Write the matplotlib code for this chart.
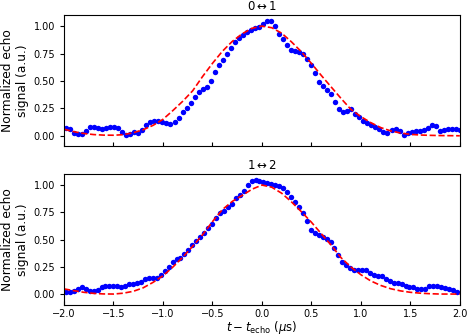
import numpy as np
import matplotlib
matplotlib.use("Agg")
import matplotlib.pyplot as plt

echo_01 = [0.073, 0.064, 0.027, 0.012, 0.015, 0.046, 0.076, 0.079, 0.070, 0.064,
           0.070, 0.079, 0.082, 0.067, 0.030, 0.006, 0.018, 0.033, 0.027, 0.049,
           0.094, 0.125, 0.134, 0.131, 0.125, 0.119, 0.109, 0.125, 0.164, 0.216,
           0.252, 0.298, 0.350, 0.398, 0.422, 0.447, 0.502, 0.581, 0.647, 0.690,
           0.748, 0.796, 0.854, 0.894, 0.921, 0.942, 0.967, 0.985, 0.994, 1.015,
           1.049, 1.049, 0.997, 0.930, 0.878, 0.830, 0.784, 0.772, 0.760, 0.742,
           0.702, 0.641, 0.568, 0.492, 0.453, 0.419, 0.377, 0.304, 0.246, 0.219,
           0.222, 0.240, 0.201, 0.170, 0.131, 0.119, 0.100, 0.082, 0.061, 0.033,
           0.027, 0.049, 0.064, 0.043, 0.006, 0.021, 0.033, 0.040, 0.040, 0.049,
           0.070, 0.100, 0.088, 0.046, 0.049, 0.061, 0.061, 0.058, 0.055]

echo_12 = [0.021, 0.021, 0.030, 0.049, 0.064, 0.049, 0.034, 0.030, 0.043, 0.064,
           0.076, 0.079, 0.079, 0.073, 0.070, 0.079, 0.091, 0.095, 0.101, 0.113,
           0.137, 0.149, 0.146, 0.152, 0.180, 0.213, 0.250, 0.293, 0.320, 0.335,
           0.366, 0.409, 0.451, 0.488, 0.524, 0.561, 0.604, 0.646, 0.701, 0.741,
           0.762, 0.796, 0.829, 0.878, 0.909, 0.948, 1.000, 1.037, 1.046, 1.040,
           1.030, 1.021, 1.009, 1.000, 0.994, 0.976, 0.939, 0.890, 0.848, 0.802,
           0.744, 0.668, 0.591, 0.558, 0.543, 0.524, 0.506, 0.476, 0.424, 0.360,
           0.299, 0.268, 0.244, 0.226, 0.220, 0.223, 0.223, 0.198, 0.177, 0.165,
           0.165, 0.137, 0.119, 0.107, 0.104, 0.098, 0.079, 0.070, 0.064, 0.049,
           0.046, 0.052, 0.076, 0.079, 0.079, 0.070, 0.058, 0.052, 0.040, 0.018]

# fitted curves (red dashed), sampled every 0.1 us
t_fit = [round(-2.0 + 0.1 * i, 1) for i in range(41)]
fit_01 = [0.060, 0.037, 0.021, 0.011, 0.006, 0.005, 0.010, 0.028, 0.055, 0.095,
          0.150, 0.230, 0.315, 0.410, 0.540, 0.660, 0.770, 0.860, 0.930, 0.980,
          1.000, 0.985, 0.935, 0.855, 0.765, 0.660, 0.550, 0.445, 0.340, 0.240,
          0.175, 0.120, 0.075, 0.045, 0.025, 0.013, 0.007, 0.004, 0.002, 0.001,
          0.000]
fit_12 = [0.050, 0.034, 0.019, 0.009, 0.004, 0.003, 0.011, 0.028, 0.060, 0.110,
          0.170, 0.250, 0.340, 0.440, 0.545, 0.665, 0.775, 0.850, 0.905, 0.962,
          1.000, 0.980, 0.925, 0.845, 0.755, 0.660, 0.555, 0.450, 0.335, 0.250,
          0.180, 0.123, 0.082, 0.052, 0.032, 0.019, 0.011, 0.006, 0.003, 0.003,
          0.003]

titles = [r'$0 \leftrightarrow 1$', r'$1 \leftrightarrow 2$']
yticks = [0.0, 0.25, 0.5, 0.75, 1.0]

t_01 = np.linspace(-1.98, 2.0, len(echo_01))
t_12 = np.linspace(-1.98, 1.97, len(echo_12))

fig, axes = plt.subplots(2, 1, figsize=(4.76, 3.36), dpi=100, sharex=True)
fig.subplots_adjust(left=0.1345, right=0.966, top=0.955, bottom=0.092, hspace=0.214)

panels = [(t_01, echo_01, fit_01, (-0.094, 1.10)),
          (t_12, echo_12, fit_12, (-0.098, 1.10))]

for ax, (t, y, f, ylim), title in zip(axes, panels, titles):
    ax.plot(t, y, 'o', color='blue', markersize=3.9, markeredgewidth=0)
    ax.plot(t_fit, f, '--', color='red', linewidth=1.2)
    ax.set_xlim(-2, 2)
    ax.set_ylim(*ylim)
    ax.set_yticks(yticks)
    ax.set_title(title, fontsize=8.5, pad=4)
    ax.set_ylabel('Normalized echo\nsignal (a.u.)', fontsize=8.8, labelpad=3)
    ax.tick_params(axis='x', direction='in', length=3, labelsize=7, pad=2.5)
    ax.tick_params(axis='y', direction='out', length=3, labelsize=7)

axes[1].set_xlabel(r'$t - t_{\rm echo}$ ($\mu$s)', fontsize=8.5, labelpad=0)

fig.savefig('out.png', dpi=100)
plt.close(fig)
